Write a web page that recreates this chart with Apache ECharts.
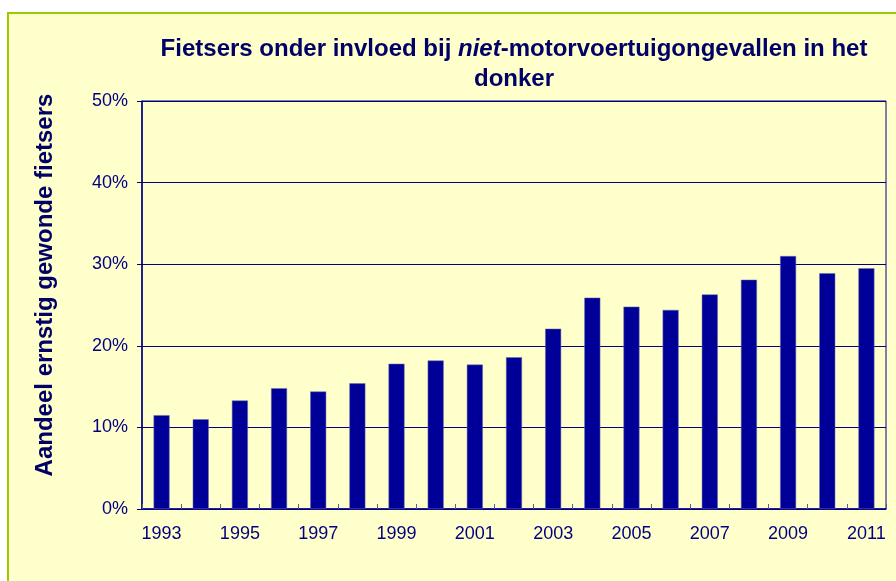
<!DOCTYPE html>
<html>
<head>
<meta charset="utf-8">
<script src="https://cdn.jsdelivr.net/npm/echarts@6/dist/echarts.min.js"></script>
<style>
  html, body { margin: 0; padding: 0; background: #ffffff; }
  #frame {
    position: absolute; left: 7px; top: 12px; width: 900px; height: 580px;
    background: #FFFFCC; border-top: 2px solid #99CC00; border-left: 2px solid #99CC00;
  }
  #chart { position: absolute; left: 0; top: 0; width: 896px; height: 581px; }
</style>
</head>
<body>
<div id="frame"></div>
<div id="chart"></div>
<script>
  // jaren en aandeel (%)
  var years = ['1993', '1994', '1995', '1996', '1997', '1998', '1999', '2000', '2001', '2002',
               '2003', '2004', '2005', '2006', '2007', '2008', '2009', '2010', '2011'];
  var shares = [11.5, 11.0, 13.3, 14.8, 14.4, 15.4, 17.8, 18.2, 17.7, 18.6,
                22.1, 25.9, 24.8, 24.4, 26.3, 28.1, 31.0, 28.9, 29.5];

  var navy = '#000080';
  var font = 'Arial, "Liberation Sans", sans-serif';

  var chart = echarts.init(document.getElementById('chart'));
  var option = {
    backgroundColor: 'transparent',
    animation: false,
    title: {
      left: 509,
      top: 29,
      textAlign: 'center',
      text: '{b|Fietsers onder invloed bij }{i|niet}{b|-motorvoertuigongevallen in het}\n{b|donker}',
      textStyle: {
        fontFamily: font,
        align: 'center',
        rich: {
          b: { fontSize: 24, fontWeight: 'bold', color: '#000066', fontFamily: font, lineHeight: 30 },
          i: { fontSize: 24, fontWeight: 'bold', fontStyle: 'italic', color: '#000066', fontFamily: font, lineHeight: 30 }
        }
      }
    },
    graphic: [{
      type: 'text',
      x: 45,
      y: 285,
      rotation: Math.PI / 2,
      style: {
        text: 'Aandeel ernstig gewonde fietsers',
        font: 'bold 24px ' + font,
        fill: '#000066',
        align: 'center',
        verticalAlign: 'middle'
      }
    }],
    grid: {
      left: 142,
      right: 10,
      top: 101,
      bottom: 72,
      show: true,
      borderColor: navy,
      borderWidth: 1,
      backgroundColor: 'transparent'
    },
    xAxis: {
      type: 'category',
      data: years,
      axisLine: { lineStyle: { color: navy, width: 1.5 } },
      axisTick: { show: true, inside: true, length: 5, interval: 0, lineStyle: { color: '#5a5a9a' } },
      axisLabel: { interval: 1, color: navy, fontSize: 18, fontFamily: font, margin: 16 }
    },
    yAxis: {
      type: 'value',
      min: 0,
      max: 50,
      interval: 10,
      axisLine: { show: true, lineStyle: { color: navy, width: 1.5 } },
      axisTick: { show: true, length: 5, lineStyle: { color: navy } },
      axisLabel: { formatter: '{value}%', color: navy, fontSize: 18, fontFamily: font, margin: 14 },
      splitLine: { lineStyle: { color: navy, width: 1 } }
    },
    series: [{
      type: 'bar',
      data: shares,
      barWidth: 16,
      itemStyle: { color: '#000099', borderColor: '#6c6ca8', borderWidth: 0.5 }
    }]
  };
  chart.setOption(option);
</script>
</body>
</html>
